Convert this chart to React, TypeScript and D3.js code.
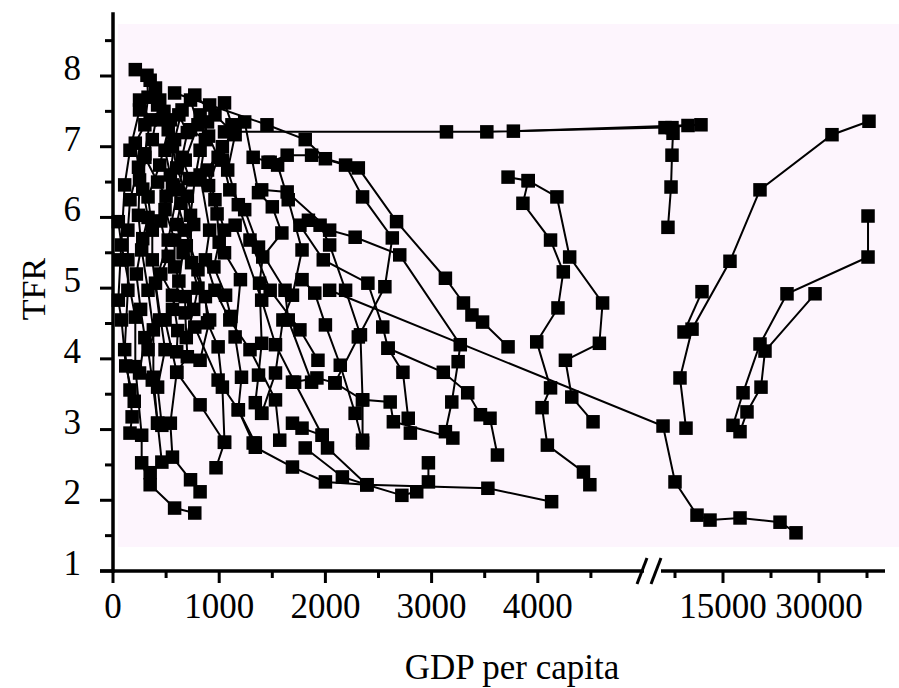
import * as d3 from "d3";

// ---- data: GDP per capita vs TFR trajectories ----
const yTicks = [1, 2, 3, 4, 5, 6, 7, 8];
const yMinor = [1.5, 2.5, 3.5, 4.5, 5.5, 6.5, 7.5, 8.5];
const xTicksLeft = [0, 1000, 2000, 3000, 4000];
const xMinorLeft = [500, 1500, 2500, 3500, 4500];
const xTicksRight = [15000, 30000];
const xMinorRight = [7500, 22500, 37500];

// right hand side (rich countries, after the axis break)
const gulfA = [[1050, 7.21], [3140, 7.21], [3520, 7.21], [5940, 7.27], [9530, 7.3]];
const gulfX = [[3770, 7.22], [11560, 7.31]];
const gulfB = [[7030, 7.27], [7190, 7.19], [7030, 6.88], [6880, 6.43], [6400, 5.86]];
const rightC = [[2040, 4.97], [5630, 3.05], [7500, 2.26], [10940, 1.79], [12970, 1.72], [17660, 1.75], [23910, 1.69], [26410, 1.54]];
const rightD = [[37810, 7.36], [32030, 7.17], [20780, 6.39], [16090, 5.38], [10160, 4.42], [8280, 3.73], [9220, 3.02]];
const rightD2 = [[11720, 4.95], [8910, 4.38]];
const rightE1 = [[37660, 6.02], [37660, 5.44], [25000, 4.92], [20780, 4.21], [18130, 3.52], [16560, 3.06]];
const rightE2 = [[29380, 4.92], [21560, 4.11], [20940, 3.6], [18750, 3.25], [17660, 2.97]];

// middle income
const s2 = [[580, 7.76], [910, 7.59], [1450, 7.31], [1810, 7.1], [2000, 6.83], [2310, 6.7], [2670, 5.94], [3130, 5.14], [3300, 4.79], [3380, 4.62], [3480, 4.52], [3720, 4.17]];
const a1 = [[1400, 6.39], [1640, 6.36], [2040, 5.82], [2280, 5.72], [2700, 5.47], [3270, 4.2], [3250, 3.96], [3190, 3.39], [3130, 2.97]];
const a2 = [[1320, 6.85], [1480, 6.78], [1640, 6.88], [1870, 6.88], [2190, 6.74], [2350, 6.29], [2630, 5.71], [2560, 5.02], [2310, 4.31], [2090, 3.66]];
const a4 = [[1760, 5.89], [1980, 5.4], [2400, 5.07], [2540, 4.45], [2590, 4.15], [2730, 3.81], [2780, 3.16], [2800, 2.95]];
const a5 = [[1840, 5.96], [1950, 5.89], [2040, 5.61], [2190, 4.97], [2330, 4.34], [2350, 3.42], [2350, 2.85]];
const a6 = [[1690, 3.67], [1920, 3.73], [2090, 3.66], [2350, 3.42], [2610, 3.39], [2640, 3.11], [3200, 2.88]];
const a7 = [[1780, 5.12], [1900, 4.93], [2000, 4.48], [2140, 3.91], [2280, 3.23], [2350, 2.81]];
const a8 = [[2590, 4.15], [3110, 3.81], [3340, 3.52], [3460, 3.21], [3550, 3.16], [3620, 2.64]];
const f1 = [[3720, 6.57], [3910, 6.52], [3860, 6.2], [4120, 5.68], [4240, 5.23], [4190, 4.72], [3990, 4.24], [4120, 3.59], [4040, 3.31], [4090, 2.78], [4430, 2.4], [4490, 2.22]];
const f2 = [[3910, 6.52], [4180, 6.29], [4300, 5.44], [4610, 4.79], [4580, 4.22], [4260, 3.98], [4320, 3.46], [4520, 3.11]];
const g1 = [[1340, 2.75], [1690, 2.47], [2000, 2.26], [2390, 2.22], [2720, 2.07], [2860, 2.12], [2970, 2.26], [2970, 2.53]];
const g2 = [[1810, 2.74], [2160, 2.33], [2390, 2.22], [3530, 2.17], [4130, 1.98]];
const g3 = [[1690, 3.09], [1780, 3.02], [1970, 2.92], [2020, 2.74], [2390, 2.22]];

// low income cluster
const l1 = [[210, 8.09], [320, 8.01], [330, 7.7], [300, 7.31], [210, 7.05], [240, 6.71], [160, 6.25], [140, 5.82], [140, 5.4], [140, 4.97], [110, 4.13], [160, 3.56], [180, 3.18], [160, 2.95]];
const l2 = [[50, 5.94], [80, 5.61], [210, 4.59], [210, 3.89], [270, 2.92], [270, 2.53], [350, 2.22], [580, 1.89], [770, 1.82]];
const l3 = [[460, 7.38], [520, 7.24], [440, 6.74], [330, 6.29], [370, 5.82], [370, 5.4], [440, 4.55], [330, 4.13], [370, 3.7], [420, 3.09], [460, 2.54], [350, 2.39]];
const l4 = [[650, 7.52], [580, 7.1], [540, 6.6], [490, 6.11], [580, 5.68], [580, 5.3], [680, 4.88], [680, 4.65], [700, 4.03], [600, 3.81], [540, 3.09], [560, 2.61], [730, 2.29], [820, 2.12]];
const l5 = [[890, 7.35], [820, 6.95], [770, 6.53], [730, 6.03], [740, 5.36], [870, 4.88], [890, 4.51], [990, 4.17], [1030, 3.6], [1050, 2.82], [970, 2.46]];
const l6 = [[1030, 7.0], [890, 6.67], [960, 6.25], [1050, 5.82], [1050, 5.5], [1200, 5.12], [1150, 4.31], [1210, 3.74], [1180, 3.28], [1340, 2.81]];
const l7 = [[1240, 7.35], [1370, 6.35], [1500, 6.15], [1590, 5.78], [1410, 5.44], [1380, 5.07], [1400, 4.22], [1370, 3.77], [1340, 3.38], [1400, 3.23]];
const l8 = [[730, 7.66], [800, 7.31], [680, 6.81], [610, 6.39], [520, 5.68], [400, 5.07], [490, 4.13], [420, 3.6], [460, 3.06]];
const l9 = [[400, 7.83], [440, 7.66], [370, 7.1], [250, 6.53], [240, 6.03], [270, 5.54], [330, 4.97], [380, 4.41], [380, 3.74], [420, 3.09]];
const l10 = [[1050, 7.62], [1120, 7.31], [1030, 6.81], [1100, 6.39], [1240, 6.11], [1370, 5.58], [1620, 4.97], [1650, 4.55], [1870, 3.67]];
const l11 = [[1460, 6.78], [1550, 6.74], [1650, 6.25], [1780, 5.54], [1690, 4.9], [1600, 4.55], [1530, 3.8], [1400, 3.23]];
const l12 = [[350, 7.94], [420, 7.59], [540, 7.38], [490, 6.95], [560, 6.46], [680, 5.82], [800, 5.26], [910, 4.55], [820, 3.98]];
const l13 = [[770, 7.73], [960, 7.45], [1150, 7.17], [1080, 6.67], [1180, 6.18], [1290, 5.68], [1480, 4.97], [1760, 4.41], [1930, 3.98]];
const l14 = [[250, 7.52], [160, 6.95], [110, 6.46], [70, 5.4], [50, 4.83], [80, 4.55], [120, 3.9], [200, 3.4]];
const l15 = [[730, 7.24], [870, 7.1], [820, 6.6], [910, 5.82], [870, 5.4], [960, 4.97], [1100, 4.55], [1290, 4.13], [1530, 3.42], [1570, 2.85]];
const l16 = [[250, 7.66], [350, 7.38], [300, 6.9], [280, 6.4], [330, 6.0], [280, 5.7], [220, 5.2], [260, 4.7], [300, 4.3], [250, 3.8]];
const l17 = [[620, 7.45], [700, 7.2], [650, 6.85], [720, 6.55], [640, 6.2], [600, 5.9], [660, 5.5], [620, 5.1], [560, 4.7]];
const l18 = [[480, 7.5], [560, 7.0], [600, 6.7], [700, 6.3], [760, 5.9], [690, 5.6], [800, 5.0], [760, 4.7], [690, 4.3]];
const l19 = [[820, 7.45], [900, 7.15], [990, 6.85], [900, 6.45], [980, 6.05], [1000, 5.65], [950, 5.3], [1060, 4.9], [1110, 4.6]];
const l20 = [[300, 6.85], [420, 6.5], [500, 6.3], [450, 5.95], [520, 5.45], [450, 5.2], [560, 4.9], [610, 4.4], [600, 4.1]];
const d1 = [[490, 4.55], [600, 3.81], [820, 3.35], [1050, 2.82]];
const d2 = [[770, 4.45], [990, 3.7], [1180, 3.28], [1320, 2.81]];
const d3s = [[1150, 5.89], [1400, 4.83], [1530, 4.2], [1710, 3.67], [1970, 2.92]];

const allSeries = [
  l1, l2, l3, l4, l5, l6, l7, l8, l9, l10, l11, l12, l13, l14, l15, l16, l17, l18, l19, l20,
  d1, d2, d3s,
  s2, a1, a2, a4, a5, a6, a7, a8, f1, f2, g1, g2, g3,
  gulfA, gulfX, gulfB, rightC, rightD, rightD2, rightE1, rightE2,
];

const W = 899;
const H = 688;
const FONT = "'Liberation Serif', 'Times New Roman', serif";

const App = () => {
  // broken x axis: linear up to 5000, then a second linear piece
  const xLeft = d3.scaleLinear().domain([0, 5000]).range([113, 644]);
  const xRight = d3.scaleLinear().domain([7500, 37500]).range([675, 867]);
  const x = (v: number) => (v <= 5200 ? xLeft(v) : xRight(v));
  const y = d3.scaleLinear().domain([1, 8]).range([571, 76]);

  const line = d3
    .line<number[]>()
    .x((d) => x(d[0]))
    .y((d) => y(d[1]));

  const axisY = y(1);
  const breakL = xLeft(5000);
  const sq = 13.5;

  return (
    <svg
      width={W}
      height={H}
      style={{ position: "absolute", left: 0, top: 0, background: "white" }}
      fontFamily={FONT}
    >
      {/* plot background */}
      <rect x={118} y={24} width={W - 118} height={547 - 24} fill="#fdf5fd" />

      {/* trajectories */}
      <g fill="none" stroke="black" strokeWidth={2}>
        {allSeries.map((s, i) => (
          <path key={i} d={line(s) || ""} />
        ))}
      </g>
      <g fill="black">
        {allSeries.map((s, i) =>
          s.map((d, j) => (
            <rect key={i + "-" + j} x={x(d[0]) - sq / 2} y={y(d[1]) - sq / 2} width={sq} height={sq} />
          ))
        )}
      </g>

      {/* y axis */}
      <line x1={113} x2={113} y1={y(8.9)} y2={axisY + 2} stroke="black" strokeWidth={3.5} />
      {yTicks.map((t) => (
        <g key={"yt" + t}>
          <line x1={100} x2={113} y1={y(t)} y2={y(t)} stroke="black" strokeWidth={3} />
          <text x={81} y={y(t) + 4} fontSize={35} textAnchor="end">
            {t}
          </text>
        </g>
      ))}
      {yMinor.map((t) => (
        <line key={"ym" + t} x1={105} x2={113} y1={y(t)} y2={y(t)} stroke="black" strokeWidth={3} />
      ))}

      {/* x axis with break */}
      <line x1={100} x2={breakL} y1={axisY} y2={axisY} stroke="black" strokeWidth={3.5} />
      <line x1={breakL + 17} x2={885} y1={axisY} y2={axisY} stroke="black" strokeWidth={3.5} />
      <line x1={breakL - 7} x2={breakL + 3} y1={axisY + 13} y2={axisY - 13} stroke="black" strokeWidth={3} />
      <line x1={breakL + 7} x2={breakL + 17} y1={axisY + 13} y2={axisY - 13} stroke="black" strokeWidth={3} />
      {xTicksLeft.map((t) => (
        <g key={"xl" + t}>
          <line x1={xLeft(t)} x2={xLeft(t)} y1={axisY} y2={axisY + 12} stroke="black" strokeWidth={3} />
          <text x={xLeft(t)} y={618} fontSize={35} textAnchor="middle">
            {t}
          </text>
        </g>
      ))}
      {xMinorLeft.map((t) => (
        <line key={"xml" + t} x1={xLeft(t)} x2={xLeft(t)} y1={axisY} y2={axisY + 7} stroke="black" strokeWidth={3} />
      ))}
      {xTicksRight.map((t) => (
        <g key={"xr" + t}>
          <line x1={xRight(t)} x2={xRight(t)} y1={axisY} y2={axisY + 12} stroke="black" strokeWidth={3} />
          <text x={xRight(t)} y={618} fontSize={35} textAnchor="middle">
            {t}
          </text>
        </g>
      ))}
      {xMinorRight.map((t) => (
        <line key={"xmr" + t} x1={xRight(t)} x2={xRight(t)} y1={axisY} y2={axisY + 7} stroke="black" strokeWidth={3} />
      ))}

      {/* axis titles */}
      <text x={512} y={679} fontSize={35} textAnchor="middle">
        GDP per capita
      </text>
      <text transform="translate(45,289) rotate(-90)" fontSize={34} textAnchor="middle">
        TFR
      </text>
    </svg>
  );
};

export default App;
